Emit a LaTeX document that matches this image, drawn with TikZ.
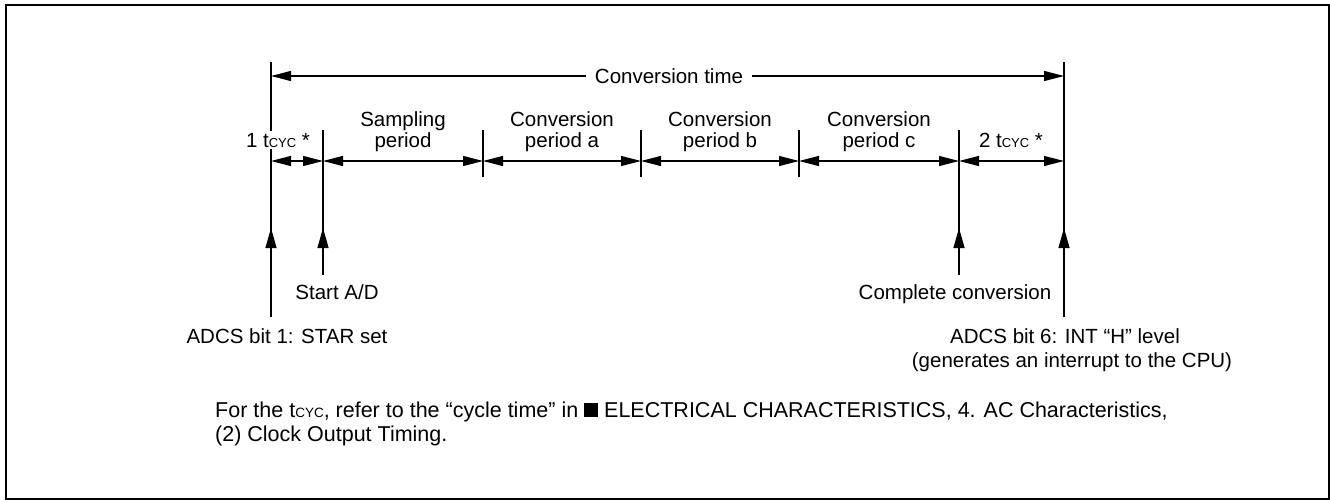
\documentclass[tikz,border=0pt]{standalone}
\usepackage{fontspec}
\setmainfont{Liberation Sans}
\usetikzlibrary{arrows.meta}
% clock-cycle symbol: t with small capital CYC
\newcommand\tcyc{t{\fontsize{13}{13}\selectfont CYC}}
\newcommand\tcycnote{t{\fontsize{13.5}{13.5}\selectfont CYC}}
\begin{document}
\begin{tikzpicture}[x=1pt,y=-1pt,
  every node/.style={font=\fontsize{20.5}{24}\selectfont, inner sep=0pt},
  lbl/.style={anchor=base},
  note/.style={anchor=base west, font=\fontsize{21.5}{25}\selectfont},
  guide/.style={line width=1.2pt},
  dim/.style={line width=1.2pt,
    {Triangle[length=20pt,width=10pt]}-{Triangle[length=20pt,width=10pt]}},
  trig/.style={line width=1.2pt, -{Triangle[length=20pt,width=11pt]}},
  frame/.style={line width=1.5pt}]
\useasboundingbox (0,0) rectangle (1330,500);
\draw[frame] (6,5) rectangle (1329,499);

% event lines
\coordinate (A0) at (271,62);   \coordinate (A1) at (271,317);
\coordinate (B0) at (323,130);  \coordinate (B1) at (323,275);
\coordinate (C0) at (483,130);  \coordinate (C1) at (483,177);
\coordinate (D0) at (641,130);  \coordinate (D1) at (641,177);
\coordinate (E0) at (799,130);  \coordinate (E1) at (799,177);
\coordinate (F0) at (959,130);  \coordinate (F1) at (959,275);
\coordinate (G0) at (1064,62);  \coordinate (G1) at (1064,317);
\foreach \c in {A,B,C,D,E,F,G} \draw[guide] (\c0) -- (\c1);

% trigger arrows
\coordinate (aA) at (271,228);
\coordinate (aB) at (323,228);
\coordinate (aF) at (959,228);
\coordinate (aG) at (1064,228);
\draw[trig] (A1) -- (aA);
\draw[trig] (B1) -- (aB);
\draw[trig] (F1) -- (aF);
\draw[trig] (G1) -- (aG);

% total conversion time
\coordinate (tA) at (271,76);
\coordinate (tG) at (1064,76);
\draw[dim] (tA) -- (tG);
\node[fill=white, inner xsep=9pt, inner ysep=3pt] (ct) at (669,76) {Conversion time};

% period dimensions
\coordinate (dA) at (271,161);
\coordinate (dB) at (323,161);
\coordinate (dC) at (483,161);
\coordinate (dD) at (641,161);
\coordinate (dE) at (799,161);
\coordinate (dF) at (959,161);
\coordinate (dG) at (1064,161);
\draw[dim] (dA) -- (dB);
\draw[dim] (dB) -- (dC);
\draw[dim] (dC) -- (dD);
\draw[dim] (dD) -- (dE);
\draw[dim] (dE) -- (dF);
\draw[dim] (dF) -- (dG);

% period labels
\node[lbl, fill=white, inner sep=1.5pt] (t1) at (278,147) {1 \tcyc\ *};
\node[lbl] (sp1) at (403,127) {Sampling};
\node[lbl] (sp2) at (403,147) {period};
\node[lbl] (ca1) at (562,127) {Conversion};
\node[lbl] (ca2) at (562,147) {period a};
\node[lbl] (cb1) at (720,127) {Conversion};
\node[lbl] (cb2) at (720,147) {period b};
\node[lbl] (cc1) at (879,127) {Conversion};
\node[lbl] (cc2) at (879,147) {period c};
\node[lbl] (t2) at (1011,147) {2 \tcyc\ *};

% event labels
\node[lbl] (sad) at (337,299) {Start A/D};
\node[lbl] (star) at (287,343) {ADCS bit 1: STAR set};
\node[lbl] (cmp) at (955,299) {Complete conversion};
\node[lbl] (int1) at (1065,343) {ADCS bit 6: INT “H” level};
\node[lbl] (int2) at (1072,367) {(generates an interrupt to the CPU)};

% footnote
\node[note] (n1) at (215,417) {For the \tcycnote, refer to the “cycle time” in \rule{14pt}{14pt} ELECTRICAL CHARACTERISTICS, 4. AC Characteristics,};
\node[note] (n2) at (215,441) {(2) Clock Output Timing.};
\end{tikzpicture}
\end{document}
